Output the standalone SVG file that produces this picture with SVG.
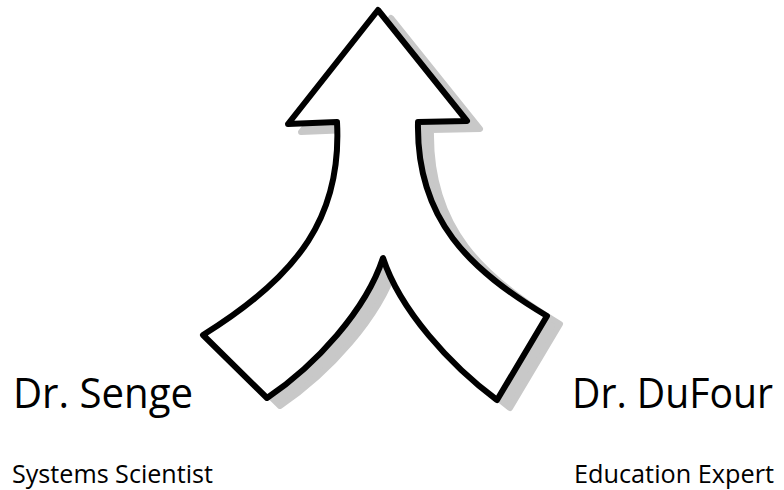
<svg xmlns="http://www.w3.org/2000/svg" width="784" height="490" viewBox="0 0 784 490">
<style>
.big{font-family:"Open Sans","Liberation Sans",sans-serif;font-size:42px;fill:#000}
.small{font-family:"Open Sans","Liberation Sans",sans-serif;font-size:26px;fill:#000}
.arrow{fill:#fff;stroke:#000;stroke-width:6;stroke-linejoin:round}
.shadow{fill:#c8c8c8;stroke:#c8c8c8;stroke-width:6;stroke-linejoin:round}
</style>
<defs>
<path id="shape" d="M378,10 L467,121 L418,122 C416,220 470,270 547,316 L497,400 C450,365 400,310 383,258 C366,310 316,365 267,398 L203,335 C300,275 342,215 337,122 L288,124 Z"/>
<filter id="soft" x="-10%" y="-10%" width="120%" height="120%"><feGaussianBlur stdDeviation="0.6"/></filter>
</defs>
<g id="connectors">
<g id="merge-arrow">
<use href="#shape" class="shadow" transform="translate(13,8)" filter="url(#soft)"/>
<use href="#shape" class="arrow"/>
</g>
</g>
<g id="senge">
<text class="big" x="13" y="408" textLength="180" lengthAdjust="spacingAndGlyphs">Dr. Senge</text>
<text class="small" x="12" y="483" textLength="201" lengthAdjust="spacingAndGlyphs">Systems Scientist</text>
</g>
<g id="dufour">
<text class="big" x="572" y="408" textLength="201" lengthAdjust="spacingAndGlyphs">Dr. DuFour</text>
<text class="small" x="574" y="483" textLength="200" lengthAdjust="spacingAndGlyphs">Education Expert</text>
</g>
</svg>
